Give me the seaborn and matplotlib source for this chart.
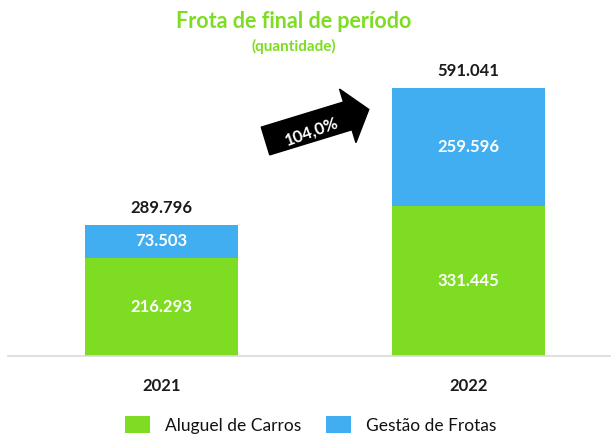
import matplotlib
matplotlib.use("Agg")
import matplotlib.pyplot as plt
import matplotlib.transforms as mtransforms
from matplotlib.patches import Polygon, Patch
import numpy as np
import pandas as pd
import seaborn as sns

years = ["2021", "2022"]
aluguel = [216293, 331445]
gestao = [73503, 259596]
totals = [289796, 591041]
growth_label = "104,0%"
title = "Frota de final de período"
subtitle = "(quantidade)"
series_names = ["Aluguel de Carros", "Gestão de Frotas"]

GREEN = "#7EDD22"
BLUE = "#41AEF2"

def fmt(v):
    return f"{v:,}".replace(",", ".")

sns.set_theme(style="white")
plt.rcParams['font.family'] = ['Lato', 'DejaVu Sans']

W, H = 611, 434
fig = plt.figure(figsize=(W / 100, H / 100), dpi=100)
# axes: x 8..611 px, y 60..356 px
ax = fig.add_axes([8 / W, (H - 356) / H, (611 - 8) / W, (356 - 60) / H])

df = pd.DataFrame({"year": years, "aluguel": aluguel, "gestao": gestao, "total": totals})
sns.barplot(data=df, x="year", y="total", color=BLUE, width=0.5, ax=ax, saturation=1, linewidth=0)
sns.barplot(data=df, x="year", y="aluguel", color=GREEN, width=0.5, ax=ax, saturation=1, linewidth=0)

ymax = totals[1] * 296 / 268
ax.set_ylim(0, ymax)
ax.set_xlim(-0.5, 1.464)
ax.set_xlabel("")
ax.set_ylabel("")
ax.set_yticks([])
for s in ["top", "right", "left"]:
    ax.spines[s].set_visible(False)
ax.spines["bottom"].set_color("#D9D9D9")
ax.spines["bottom"].set_linewidth(1.2)
ax.tick_params(axis="x", length=0, pad=16)
for lbl in ax.get_xticklabels():
    lbl.set_fontweight("bold")
    lbl.set_fontsize(12)
    lbl.set_color("#1a1a1a")

for i in range(len(years)):
    ax.text(i, aluguel[i] / 2, fmt(aluguel[i]), ha="center", va="center",
            color="white", fontsize=12, fontweight="bold")
    ax.text(i, aluguel[i] + gestao[i] / 2, fmt(gestao[i]), ha="center", va="center",
            color="white", fontsize=12, fontweight="bold")
    ax.text(i, totals[i] + ymax * 0.03, fmt(totals[i]), ha="center", va="bottom",
            color="#1a1a1a", fontsize=12, fontweight="bold")

# title
fig.text(294 / W, 1 - 22 / H, title, ha="center", va="center",
         color=GREEN, fontsize=15.5, fontweight="bold")
fig.text(294 / W, 1 - 46 / H, subtitle, ha="center", va="center",
         color=GREEN, fontsize=11, fontweight="bold")

# arrow in image pixel coords
pix = mtransforms.Affine2D().scale(1 / W, -1 / H).translate(0, 1) + fig.transFigure
ang = np.deg2rad(17)
d = np.array([np.cos(ang), -np.sin(ang)])
n = np.array([np.sin(ang), np.cos(ang)])
tail = np.array([265.5, 141.0])
L, hl, sw, hw = 108, 22, 29, 56
base = tail + d * (L - hl)
tip = tail + d * L
pts = [tail - n * sw / 2, base - n * sw / 2, base - n * hw / 2, tip,
       base + n * hw / 2, base + n * sw / 2, tail + n * sw / 2]
fig.patches.append(Polygon(pts, closed=True, facecolor="black", edgecolor="black",
                           transform=pix, figure=fig))
c = np.array([312.0, 131.0])
fig.text(c[0] / W, 1 - c[1] / H, growth_label, ha="center", va="center",
         rotation=20, rotation_mode="anchor", color="white", fontsize=12, fontweight="bold")

handles = [Patch(facecolor=GREEN, edgecolor="none"), Patch(facecolor=BLUE, edgecolor="none")]
leg = fig.legend(handles, series_names, loc="center", bbox_to_anchor=(311 / W, 1 - 425 / H),
                 ncol=2, frameon=False, fontsize=12.5, handlelength=1.44, handleheight=1.1,
                 columnspacing=1.44, handletextpad=0.86)
for t in leg.get_texts():
    t.set_color("#111111")

fig.savefig("out.png", dpi=100)
